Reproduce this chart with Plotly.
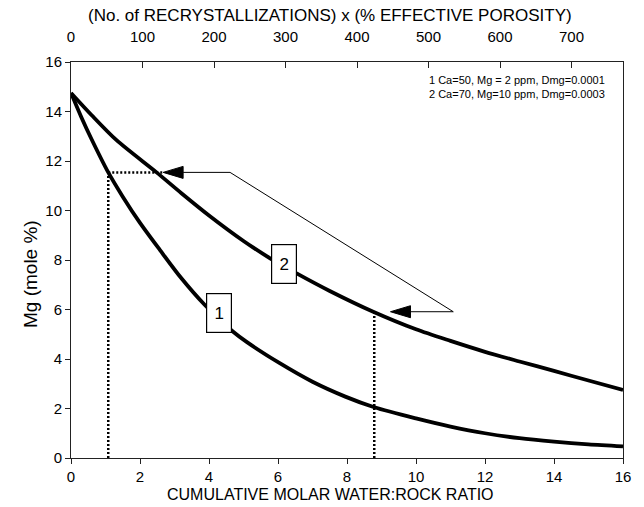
import plotly.graph_objects as go

# ---- data ----
ratio1 = [0, 0.3, 0.6, 1.08, 1.5, 2.0, 2.58, 3.2, 3.88, 4.7, 5.1, 6.05, 7.0, 7.95, 8.79, 10.0, 11.0, 12.0, 13.0, 14.0, 15.0, 16.0]
mg1 = [14.75, 13.77, 12.87, 11.54, 10.56, 9.5, 8.4, 7.26, 6.18, 5.1, 4.68, 3.83, 3.08, 2.48, 2.05, 1.6, 1.27, 1.0, 0.8, 0.66, 0.55, 0.47]

ratio2 = [0, 0.6, 1.32, 2.48, 3.2, 4.0, 5.0, 5.77, 6.54, 7.5, 8.76, 10.0, 11.0, 12.0, 13.0, 14.0, 15.0, 16.0]
mg2 = [14.75, 13.85, 12.84, 11.54, 10.7, 9.8, 8.77, 8.07, 7.46, 6.75, 5.91, 5.2, 4.73, 4.29, 3.9, 3.52, 3.13, 2.75]

x_ticks = [0, 2, 4, 6, 8, 10, 12, 14, 16]
y_ticks = [0, 2, 4, 6, 8, 10, 12, 14, 16]
top_ticks = [0, 100, 200, 300, 400, 500, 600, 700]
top_max = 772

legend_lines = ["1 Ca=50, Mg = 2 ppm, Dmg=0.0001", "2 Ca=70, Mg=10 ppm, Dmg=0.0003"]
label_text = ["1", "2"]
label_x = [4.29, 6.16]
label_y = [5.86, 7.82]

drop_x = [1.08, 8.79]      # dotted read-off lines
drop_y = [11.54, 5.91]
arrow_tip_x = [2.67, 9.26]
elbow_x = [4.61, 11.08]

# ---- styling ----
W, H = 644, 507
ML, MR, MT, MB = 71, 21, 62, 49
px_per_x = (W - ML - MR) / 16
px_per_y = (H - MT - MB) / 16
head_len = 20 / px_per_x
head_half = 6 / px_per_y
FONT = "Liberation Sans, Arial, sans-serif"

fig = go.Figure()

# dotted read-off lines
for dx, dy in zip(drop_x, drop_y):
    fig.add_trace(go.Scatter(x=[dx, dx], y=[0, dy], mode="lines",
                             line=dict(color="black", width=2.5, dash="2px,2px"),
                             hoverinfo="skip", showlegend=False))
fig.add_trace(go.Scatter(x=[drop_x[0], arrow_tip_x[0]], y=[drop_y[0], drop_y[0]], mode="lines",
                         line=dict(color="black", width=2.5, dash="2px,2px"),
                         hoverinfo="skip", showlegend=False))

# connector line
fig.add_trace(go.Scatter(
    x=[arrow_tip_x[0] + head_len, elbow_x[0], elbow_x[1], arrow_tip_x[1] + head_len],
    y=[drop_y[0], drop_y[0], drop_y[1], drop_y[1]],
    mode="lines", line=dict(color="black", width=1),
    hoverinfo="skip", showlegend=False))

# arrowheads
for tx, ty in zip(arrow_tip_x, drop_y):
    fig.add_trace(go.Scatter(
        x=[tx, tx + head_len, tx + head_len, tx],
        y=[ty, ty + head_half, ty - head_half, ty],
        mode="lines", fill="toself", fillcolor="black",
        line=dict(color="black", width=1), hoverinfo="skip", showlegend=False))

# curves
for xs, ys in [(ratio1, mg1), (ratio2, mg2)]:
    fig.add_trace(go.Scatter(x=xs, y=ys, mode="lines",
                             line=dict(color="black", width=3.8, shape="spline", smoothing=0.8),
                             hoverinfo="skip", showlegend=False))

# top axis helper trace
fig.add_trace(go.Scatter(x=[0, top_max], y=[None, None], xaxis="x2", yaxis="y",
                         mode="lines", showlegend=False, hoverinfo="skip"))

annotations = []
for t, x, y in zip(label_text, label_x, label_y):
    annotations.append(dict(x=x, y=y, xref="x", yref="y", text=t, showarrow=False,
                            font=dict(family=FONT, size=17, color="black"),
                            bgcolor="white", bordercolor="black", borderwidth=1.2,
                            borderpad=1, width=22, height=36))
annotations.append(dict(x=(427 - ML) / (W - ML - MR), y=(H - MB - 87) / (H - MT - MB),
                        xref="paper", yref="paper", xanchor="left", yanchor="middle",
                        text="<br>".join(legend_lines), align="left", showarrow=False,
                        font=dict(family=FONT, size=11, color="black")))
annotations.append(dict(x=0.47, y=0, xref="paper", yref="paper", yanchor="top", yshift=-26,
                        text="CUMULATIVE MOLAR WATER:ROCK RATIO", showarrow=False,
                        font=dict(family=FONT, size=16, color="black")))
annotations.append(dict(x=0.47, y=1, xref="paper", yref="paper", yanchor="middle", yshift=47,
                        text="(No. of RECRYSTALLIZATIONS) x (% EFFECTIVE POROSITY)", showarrow=False,
                        font=dict(family=FONT, size=17, color="black")))
annotations.append(dict(x=0, y=(H - MB - 274) / (H - MT - MB), xref="paper", yref="paper",
                        xanchor="center", yanchor="middle",
                        xshift=-41, textangle=-90, text="Mg (mole %)", showarrow=False,
                        font=dict(family=FONT, size=19, color="black")))

fig.update_layout(
    width=W, height=H, margin=dict(l=ML, r=MR, t=MT, b=MB),
    paper_bgcolor="white", plot_bgcolor="white", showlegend=False,
    font=dict(family=FONT, size=15, color="black"),
    xaxis=dict(range=[0, 16], tickvals=x_ticks, ticks="outside", ticklen=5, tickcolor="#222",
               showline=True, linecolor="#222", linewidth=1, showgrid=False, zeroline=False,
               tickfont=dict(size=15)),
    xaxis2=dict(range=[0, top_max], tickvals=top_ticks, overlaying="x", side="top", anchor="y",
                ticks="inside", ticklen=6, tickcolor="#222", showline=True, linecolor="#222",
                linewidth=1, showgrid=False, zeroline=False, tickfont=dict(size=15),
                ticklabelstandoff=13),
    yaxis=dict(range=[0, 16], tickvals=y_ticks, ticks="outside", ticklen=5, tickcolor="#222",
               showline=True, linecolor="#222", linewidth=1, mirror=True, showgrid=False,
               zeroline=False, tickfont=dict(size=15)),
    annotations=annotations,
)

fig.write_html("out.html")
